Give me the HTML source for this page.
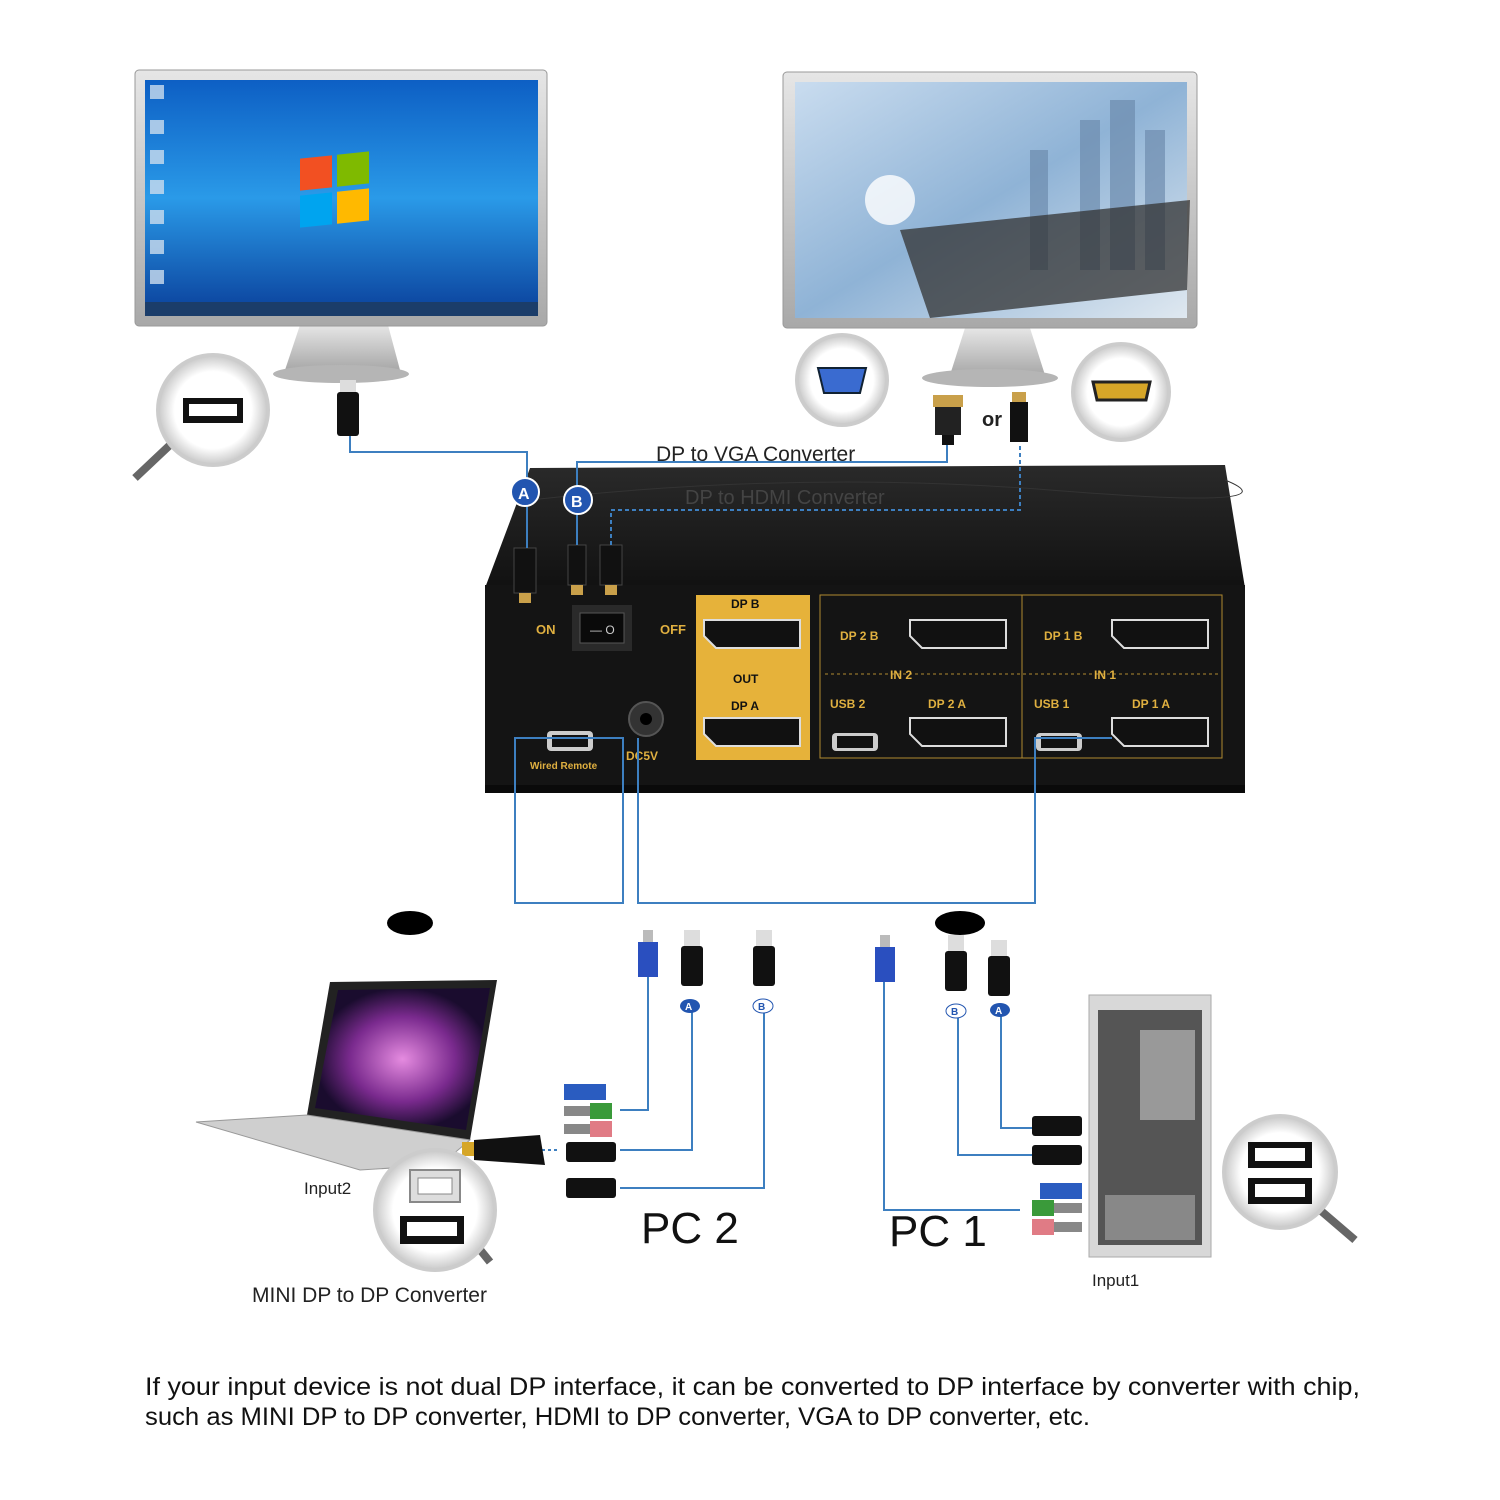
<!DOCTYPE html>
<html><head><meta charset="utf-8"><style>
body{margin:0;background:#fff}
svg{display:block}
text{font-family:"Liberation Sans",sans-serif}
</style></head><body>
<svg width="1500" height="1500" viewBox="0 0 1500 1500" xmlns="http://www.w3.org/2000/svg">
<defs>
<linearGradient id="scr1" x1="0" y1="0" x2="0" y2="1"><stop offset="0" stop-color="#0d5fc4"/><stop offset="0.5" stop-color="#2a9ae8"/><stop offset="1" stop-color="#0a3f9a"/></linearGradient>
<linearGradient id="scr2" x1="0" y1="0" x2="1" y2="1"><stop offset="0" stop-color="#c9dcef"/><stop offset="0.5" stop-color="#8fb3d6"/><stop offset="1" stop-color="#dfe8f0"/></linearGradient>
<linearGradient id="sil" x1="0" y1="0" x2="0" y2="1"><stop offset="0" stop-color="#e6e6e6"/><stop offset="1" stop-color="#a8a8a8"/></linearGradient>
<radialGradient id="mag"><stop offset="0.7" stop-color="#fff"/><stop offset="1" stop-color="#c8c8c8"/></radialGradient>
<linearGradient id="top" x1="0" y1="0" x2="0" y2="1"><stop offset="0" stop-color="#2a2a2a"/><stop offset="1" stop-color="#111"/></linearGradient>
<radialGradient id="lap"><stop offset="0" stop-color="#e58be0"/><stop offset="0.6" stop-color="#7a2a8e"/><stop offset="1" stop-color="#1a0c2e"/></radialGradient>
</defs>

<!-- Monitor 1 -->
<polygon points="300,325 388,325 400,370 285,370" fill="url(#sil)"/>
<ellipse cx="341" cy="374" rx="68" ry="9" fill="#b5b5b5"/>
<rect x="135" y="70" width="412" height="256" rx="4" fill="url(#sil)" stroke="#999"/>
<rect x="145" y="80" width="393" height="236" fill="url(#scr1)"/>
<rect x="145" y="302" width="393" height="14" fill="#1b3d6a"/>
<g transform="translate(335,200) skewY(-6)">
<rect x="-35" y="-45" width="32" height="32" fill="#f25022"/><rect x="2" y="-45" width="32" height="32" fill="#7fba00"/>
<rect x="-35" y="-8" width="32" height="32" fill="#00a4ef"/><rect x="2" y="-8" width="32" height="32" fill="#ffb900"/></g>
<g fill="#cde" opacity="0.8"><rect x="150" y="85" width="14" height="14"/><rect x="150" y="120" width="14" height="14"/><rect x="150" y="150" width="14" height="14"/><rect x="150" y="180" width="14" height="14"/><rect x="150" y="210" width="14" height="14"/><rect x="150" y="240" width="14" height="14"/><rect x="150" y="270" width="14" height="14"/></g>

<!-- Monitor 2 -->
<polygon points="965,328 1030,328 1045,375 950,375" fill="url(#sil)"/>
<ellipse cx="990" cy="378" rx="68" ry="9" fill="#b5b5b5"/>
<rect x="783" y="72" width="414" height="256" rx="4" fill="url(#sil)" stroke="#999"/>
<rect x="795" y="82" width="392" height="236" fill="url(#scr2)"/>
<g fill="#6d8cae" opacity="0.7"><rect x="1080" y="120" width="20" height="150"/><rect x="1110" y="100" width="25" height="170"/><rect x="1145" y="130" width="20" height="140"/><rect x="1030" y="150" width="18" height="120"/></g>
<polygon points="900,230 1190,200 1187,290 930,318" fill="#333" opacity="0.75"/>
<circle cx="890" cy="200" r="25" fill="#fff" opacity="0.8"/>

<!-- magnifiers -->
<line x1="170" y1="445" x2="135" y2="478" stroke="#666" stroke-width="8"/>
<circle cx="213" cy="410" r="55" fill="url(#mag)" stroke="#ccc" stroke-width="4"/>
<rect x="183" y="398" width="60" height="25" fill="#111"/><rect x="189" y="404" width="48" height="12" fill="#fff"/>
<circle cx="842" cy="380" r="45" fill="url(#mag)" stroke="#ccc" stroke-width="4"/>
<polygon points="818,368 866,368 860,393 824,393" fill="#3a6bd0" stroke="#123" stroke-width="2"/>
<circle cx="1121" cy="392" r="48" fill="url(#mag)" stroke="#ccc" stroke-width="4"/>
<polygon points="1093,382 1150,382 1146,400 1097,400" fill="#d6a628" stroke="#222" stroke-width="3"/>

<!-- connectors at monitors -->
<rect x="340" y="380" width="16" height="12" fill="#ddd"/><rect x="337" y="392" width="22" height="44" rx="3" fill="#111"/>
<rect x="933" y="395" width="30" height="12" fill="#c9a04a"/><rect x="935" y="407" width="26" height="28" fill="#222"/><rect x="942" y="435" width="12" height="10" fill="#111"/>
<text x="982" y="426" font-size="20" font-weight="bold" fill="#222">or</text>
<rect x="1012" y="392" width="14" height="10" fill="#c9a04a"/><rect x="1010" y="402" width="18" height="40" fill="#111"/>

<!-- KVM box -->
<polygon points="530,468 1225,465 1245,588 485,588" fill="url(#top)"/>
<path d="M530,500 Q800,470 1050,490 T1225,480" stroke="#333" fill="none"/>
<rect x="485" y="585" width="760" height="207" fill="#141414"/>
<rect x="485" y="785" width="760" height="8" fill="#0a0a0a"/>
<text x="656" y="461" font-size="21" fill="#222">DP to VGA Converter</text>
<text x="685" y="504" font-size="20" fill="#444">DP to HDMI Converter</text>

<!-- front panel -->
<text x="536" y="634" font-size="13" font-weight="bold" fill="#e0b040">ON</text>
<text x="660" y="634" font-size="13" font-weight="bold" fill="#e0b040">OFF</text>
<rect x="572" y="605" width="60" height="46" fill="#2a2a2a"/><rect x="580" y="613" width="44" height="30" fill="#0a0a0a" stroke="#555"/>
<text x="590" y="634" font-size="12" fill="#ccc">—  O</text>
<circle cx="646" cy="719" r="17" fill="#333" stroke="#555" stroke-width="2"/><circle cx="646" cy="719" r="6" fill="#000"/>
<text x="626" y="760" font-size="12" font-weight="bold" fill="#e0b040">DC5V</text>
<rect x="547" y="731" width="46" height="20" rx="4" fill="#ccc"/><rect x="552" y="735" width="36" height="12" fill="#111"/>
<text x="530" y="769" font-size="10" font-weight="bold" fill="#e0b040">Wired Remote</text>

<rect x="696" y="595" width="114" height="165" fill="#e6b23a"/>
<text x="731" y="608" font-size="12" font-weight="bold" fill="#111">DP B</text>
<text x="733" y="683" font-size="12" font-weight="bold" fill="#111">OUT</text>
<text x="731" y="710" font-size="12" font-weight="bold" fill="#111">DP A</text>
<g fill="#111" stroke="#ddd" stroke-width="2">
<path d="M704,620 H800 V648 H716 L704,636 Z"/><path d="M704,718 H800 V746 H716 L704,734 Z"/>
<path d="M910,620 H1006 V648 H922 L910,636 Z"/><path d="M1112,620 H1208 V648 H1124 L1112,636 Z"/>
<path d="M910,718 H1006 V746 H922 L910,734 Z"/><path d="M1112,718 H1208 V746 H1124 L1112,734 Z"/>
</g>
<rect x="820" y="595" width="202" height="163" fill="none" stroke="#b08a30"/>
<rect x="1022" y="595" width="200" height="163" fill="none" stroke="#b08a30"/>
<line x1="825" y1="674" x2="1218" y2="674" stroke="#b08a30" stroke-dasharray="3,3"/>
<g font-size="12" font-weight="bold" fill="#e0b040">
<text x="840" y="640">DP 2 B</text><text x="1044" y="640">DP 1 B</text>
<text x="890" y="679">IN 2</text><text x="1094" y="679">IN 1</text>
<text x="830" y="708">USB 2</text><text x="928" y="708">DP 2 A</text>
<text x="1034" y="708">USB 1</text><text x="1132" y="708">DP 1 A</text></g>
<rect x="832" y="733" width="46" height="18" rx="4" fill="#ccc"/><rect x="837" y="736" width="36" height="12" fill="#111"/>
<rect x="1036" y="733" width="46" height="18" rx="4" fill="#ccc"/><rect x="1041" y="736" width="36" height="12" fill="#111"/>

<!-- plugs on box -->
<rect x="514" y="548" width="22" height="45" fill="#111" stroke="#444"/><rect x="519" y="593" width="12" height="10" fill="#c9a04a"/>
<rect x="568" y="545" width="18" height="40" fill="#111" stroke="#444"/><rect x="571" y="585" width="12" height="10" fill="#c9a04a"/>
<rect x="600" y="545" width="22" height="40" fill="#111" stroke="#444"/><rect x="605" y="585" width="12" height="10" fill="#c9a04a"/>

<!-- cables -->
<g fill="none" stroke="#3d7fc0" stroke-width="2">
<polyline points="350,436 350,452 527,452 527,548"/>
<polyline points="577,545 577,462 947,462 947,445"/>
<polyline points="611,545 611,510 1020,510 1020,445" stroke-dasharray="4,3"/>
<rect x="515" y="738" width="108" height="165"/>
<polyline points="638,738 638,903 1035,903 1035,738 1112,738"/>
<polyline points="648,975 648,1110 620,1110"/>
<polyline points="692,1012 692,1150 620,1150"/>
<polyline points="764,1012 764,1188 620,1188"/>
<polyline points="884,980 884,1210 1020,1210"/>
<polyline points="958,1015 958,1155 1032,1155"/>
<polyline points="1001,1015 1001,1128 1032,1128"/>
<line x1="530" y1="1150" x2="560" y2="1150" stroke-dasharray="3,3"/>
</g>
<circle cx="525" cy="492" r="14" fill="#2255b0" stroke="#fff" stroke-width="2"/><text x="518" y="499" font-size="16" font-weight="bold" fill="#fff">A</text>
<circle cx="578" cy="500" r="14" fill="#2255b0" stroke="#fff" stroke-width="2"/><text x="571" y="507" font-size="16" font-weight="bold" fill="#fff">B</text>

<ellipse cx="410" cy="923" rx="23" ry="12" fill="#000"/>
<ellipse cx="960" cy="923" rx="25" ry="12" fill="#000"/>

<!-- PC2 plugs -->
<rect x="643" y="930" width="10" height="12" fill="#bbb"/><rect x="638" y="942" width="20" height="35" fill="#2a4fbf"/>
<rect x="684" y="930" width="16" height="16" fill="#ddd"/><rect x="681" y="946" width="22" height="40" rx="3" fill="#111"/>
<rect x="756" y="930" width="16" height="16" fill="#ddd"/><rect x="753" y="946" width="22" height="40" rx="3" fill="#111"/>
<ellipse cx="690" cy="1006" rx="10" ry="7" fill="#2255b0"/><text x="685" y="1010" font-size="10" font-weight="bold" fill="#fff">A</text>
<ellipse cx="763" cy="1006" rx="10" ry="7" fill="#fff" stroke="#2255b0"/><text x="758" y="1010" font-size="10" font-weight="bold" fill="#2255b0">B</text>
<!-- PC1 plugs -->
<rect x="880" y="935" width="10" height="12" fill="#bbb"/><rect x="875" y="947" width="20" height="35" fill="#2a4fbf"/>
<rect x="948" y="935" width="16" height="16" fill="#ddd"/><rect x="945" y="951" width="22" height="40" rx="3" fill="#111"/>
<rect x="991" y="940" width="16" height="16" fill="#ddd"/><rect x="988" y="956" width="22" height="40" rx="3" fill="#111"/>
<ellipse cx="956" cy="1011" rx="10" ry="7" fill="#fff" stroke="#2255b0"/><text x="951" y="1015" font-size="10" font-weight="bold" fill="#2255b0">B</text>
<ellipse cx="1000" cy="1010" rx="10" ry="7" fill="#2255b0"/><text x="995" y="1014" font-size="10" font-weight="bold" fill="#fff">A</text>

<!-- PC2 side connectors -->
<rect x="564" y="1084" width="42" height="16" fill="#2a5cc0"/>
<rect x="564" y="1106" width="42" height="10" fill="#888"/><rect x="590" y="1103" width="22" height="16" fill="#3a9a3a"/>
<rect x="564" y="1124" width="42" height="10" fill="#888"/><rect x="590" y="1121" width="22" height="16" fill="#e07b85"/>
<rect x="566" y="1142" width="50" height="20" rx="3" fill="#111"/>
<rect x="566" y="1178" width="50" height="20" rx="3" fill="#111"/>
<!-- PC1 side connectors -->
<rect x="1032" y="1116" width="50" height="20" rx="3" fill="#111"/>
<rect x="1032" y="1145" width="50" height="20" rx="3" fill="#111"/>
<rect x="1040" y="1183" width="42" height="16" fill="#2a5cc0"/>
<rect x="1040" y="1203" width="42" height="10" fill="#888"/><rect x="1032" y="1200" width="22" height="16" fill="#3a9a3a"/>
<rect x="1040" y="1222" width="42" height="10" fill="#888"/><rect x="1032" y="1219" width="22" height="16" fill="#e07b85"/>

<!-- laptop -->
<polygon points="330,982 497,980 470,1140 307,1115" fill="#222"/>
<polygon points="338,990 490,988 466,1130 315,1108" fill="url(#lap)"/>
<polygon points="196,1122 307,1115 470,1140 440,1165 360,1170" fill="#cfcfcf" stroke="#999"/>
<rect x="462" y="1142" width="14" height="14" fill="#d6a628"/>
<path d="M474,1140 L540,1135 L545,1165 L474,1160 Z" fill="#111"/>
<line x1="440" y1="1200" x2="490" y2="1262" stroke="#666" stroke-width="8"/>
<circle cx="435" cy="1210" r="60" fill="url(#mag)" stroke="#ccc" stroke-width="4"/>
<rect x="410" y="1170" width="50" height="32" fill="#ddd" stroke="#888" stroke-width="2"/><rect x="418" y="1178" width="34" height="16" fill="#fff" stroke="#888"/>
<rect x="400" y="1216" width="64" height="28" fill="#111"/><rect x="407" y="1222" width="50" height="14" fill="#fff"/>
<text x="304" y="1194" font-size="17" fill="#222">Input2</text>
<text x="252" y="1302" font-size="21" fill="#222">MINI DP to DP Converter</text>

<text x="641" y="1243" font-size="44" fill="#111">PC 2</text>
<text x="889" y="1246" font-size="44" fill="#111">PC 1</text>

<!-- PC tower -->
<rect x="1089" y="995" width="122" height="262" fill="#d8d8d8" stroke="#aaa"/>
<rect x="1098" y="1010" width="104" height="235" fill="#555"/>
<rect x="1140" y="1030" width="55" height="90" fill="#999"/>
<rect x="1105" y="1195" width="90" height="45" fill="#888"/>
<text x="1092" y="1286" font-size="17" fill="#222">Input1</text>
<line x1="1320" y1="1210" x2="1355" y2="1240" stroke="#666" stroke-width="8"/>
<circle cx="1280" cy="1172" r="56" fill="url(#mag)" stroke="#ccc" stroke-width="4"/>
<rect x="1248" y="1142" width="64" height="26" fill="#111"/><rect x="1255" y="1148" width="50" height="13" fill="#fff"/>
<rect x="1248" y="1178" width="64" height="26" fill="#111"/><rect x="1255" y="1184" width="50" height="13" fill="#fff"/>

<text x="145" y="1395" font-size="25" fill="#111" textLength="1215" lengthAdjust="spacingAndGlyphs">If your input device is not dual DP interface, it can be converted to DP  interface by converter with chip,</text>
<text x="145" y="1425" font-size="25" fill="#111" textLength="945" lengthAdjust="spacingAndGlyphs">such as MINI DP to DP converter, HDMI to DP converter, VGA to DP converter, etc.</text>
</svg>
</body></html>
